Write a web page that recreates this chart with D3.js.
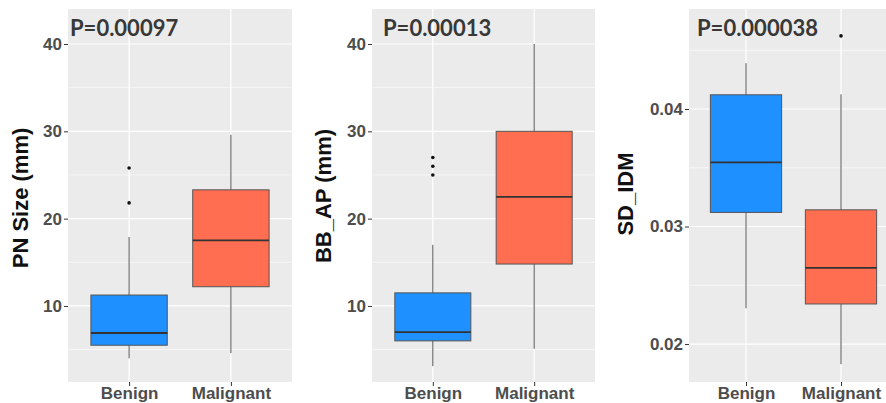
<!DOCTYPE html>
<html>
<head>
<meta charset="utf-8">
<script src="https://cdn.jsdelivr.net/npm/d3@7"></script>
<style>
  body { margin: 0; background: #fff; }
  svg { display: block; }
  .tick text { font-family: Arial, "Liberation Sans", sans-serif; font-weight: bold; fill: #4d4d4d; }
  .tick line { stroke: #333; }
</style>
</head>
<body>
<svg width="886" height="403"></svg>
<script>
// groups on the x axis
var groups = ["Benign", "Malignant"];
var groupColors = ["#1e90ff", "#ff6e50"];

// box stats per group: [lower whisker, Q1, median, Q3, upper whisker]
var pnSizeStats = [[4.0, 5.5, 6.9, 11.25, 17.9], [4.6, 12.2, 17.5, 23.3, 29.6]];
var pnSizeOutliers = [[25.8, 21.8], []];

var bbApStats = [[3.1, 6.0, 7.0, 11.5, 17.0], [5.1, 14.8, 22.5, 30.0, 40.0]];
var bbApOutliers = [[27.0, 26.0, 25.0], []];

var sdIdmStats = [[0.02305, 0.0312, 0.03546, 0.04121, 0.0439], [0.01829, 0.02341, 0.02648, 0.03142, 0.04125]];
var sdIdmOutliers = [[], [0.04622]];

// axis text
var yTitles = ["PN Size (mm)", "BB_AP (mm)", "SD_IDM"];
var pLabels = ["P=0.00097", "P=0.00013", "P=0.000038"];
var mmTicks = [10, 20, 30, 40];
var idmTicks = [0.02, 0.03, 0.04];

var svg = d3.select("svg");

var drawPanel = function(p) {
	var g = svg.append("g");

	var x = d3.scalePoint()
		.domain(groups)
		.range([p.left, p.right])
		.padding(0.6);
	var step = x.step();
	var boxW = step * 0.75;

	var y = d3.scaleLinear()
		.domain(p.domain)
		.range([p.bottom, p.top]);

	// panel background
	g.append("rect")
		.attr("x", p.left).attr("y", p.top)
		.attr("width", Math.min(p.right, 886) - p.left)
		.attr("height", p.bottom - p.top)
		.attr("fill", "#ebebeb");

	// minor grid
	var minor = [];
	var d = p.ticks[1] - p.ticks[0];
	for (var i = -1; i < p.ticks.length; i++) {
		var v = p.ticks[0] + d * i + d / 2;
		if (y(v) > p.top && y(v) < p.bottom) minor.push(v);
	}
	g.selectAll(".minor").data(minor).enter().append("line")
		.attr("x1", p.left).attr("x2", p.right)
		.attr("y1", function(v) { return y(v); })
		.attr("y2", function(v) { return y(v); })
		.attr("stroke", "#fff").attr("stroke-width", 0.6);

	// major grid
	g.selectAll(".major").data(p.ticks).enter().append("line")
		.attr("x1", p.left).attr("x2", p.right)
		.attr("y1", function(v) { return y(v); })
		.attr("y2", function(v) { return y(v); })
		.attr("stroke", "#fff").attr("stroke-width", 1.2);
	g.selectAll(".vgrid").data(groups).enter().append("line")
		.attr("x1", function(c) { return x(c); })
		.attr("x2", function(c) { return x(c); })
		.attr("y1", p.top).attr("y2", p.bottom)
		.attr("stroke", "#fff").attr("stroke-width", 1.2);

	// axes
	var ya = g.append("g")
		.attr("transform", "translate(" + p.left + ",0)")
		.call(d3.axisLeft(y).tickValues(p.ticks).tickSize(4).tickPadding(2)
			.tickFormat(p.fmt));
	ya.select(".domain").remove();
	ya.selectAll("text").style("font-size", "17px");

	var xa = g.append("g")
		.attr("transform", "translate(0," + p.bottom + ")")
		.call(d3.axisBottom(x).tickSize(4).tickPadding(1));
	xa.select(".domain").remove();
	xa.selectAll("text").style("font-size", "17px");

	// boxes
	groups.forEach(function(c, k) {
		var s = p.stats[k];
		var cx = x(c);
		g.append("line")
			.attr("x1", cx).attr("x2", cx)
			.attr("y1", y(s[0])).attr("y2", y(s[4]))
			.attr("stroke", "#555").attr("stroke-width", 1);
		g.append("rect")
			.attr("x", cx - boxW / 2).attr("width", boxW)
			.attr("y", y(s[3])).attr("height", y(s[1]) - y(s[3]))
			.attr("fill", groupColors[k])
			.attr("stroke", "#555").attr("stroke-width", 1);
		g.append("line")
			.attr("x1", cx - boxW / 2).attr("x2", cx + boxW / 2)
			.attr("y1", y(s[2])).attr("y2", y(s[2]))
			.attr("stroke", "#333").attr("stroke-width", 1.8);
		g.selectAll(null).data(p.outliers[k]).enter().append("circle")
			.attr("cx", cx)
			.attr("cy", function(v) { return y(v); })
			.attr("r", 1.8)
			.attr("fill", "#111");
	});

	// p value
	g.append("text")
		.attr("x", p.left + p.pdx).attr("y", 36)
		.style("font-family", "Lato, 'Open Sans', sans-serif")
		.style("font-weight", "bold")
		.style("font-size", "22px")
		.attr("fill", "#383838")
		.text(p.pLabel);

	// y title
	g.append("text")
		.attr("transform", "translate(" + p.titleX + "," + p.titleY + ") rotate(-90)")
		.attr("text-anchor", "middle")
		.style("font-family", "Arial, 'Liberation Sans', sans-serif")
		.style("font-weight", "bold")
		.style("font-size", "22px")
		.attr("fill", "#111")
		.text(p.title);
};

drawPanel({left: 68, right: 292, top: 9, bottom: 382, domain: [1.29, 44.01],
	ticks: mmTicks, fmt: d3.format("d"), stats: pnSizeStats, outliers: pnSizeOutliers,
	pLabel: pLabels[0], pdx: 2, title: yTitles[0], titleX: 28, titleY: 198});

drawPanel({left: 372, right: 595, top: 9, bottom: 382, domain: [1.29, 44.01],
	ticks: mmTicks, fmt: d3.format("d"), stats: bbApStats, outliers: bbApOutliers,
	pLabel: pLabels[1], pdx: 11, title: yTitles[1], titleX: 331, titleY: 196});

drawPanel({left: 689, right: 898, top: 9, bottom: 382, domain: [0.01677, 0.04851],
	ticks: idmTicks, fmt: d3.format(".2f"), stats: sdIdmStats, outliers: sdIdmOutliers,
	pLabel: pLabels[2], pdx: 8, title: yTitles[2], titleX: 633, titleY: 194});
</script>
</body>
</html>
